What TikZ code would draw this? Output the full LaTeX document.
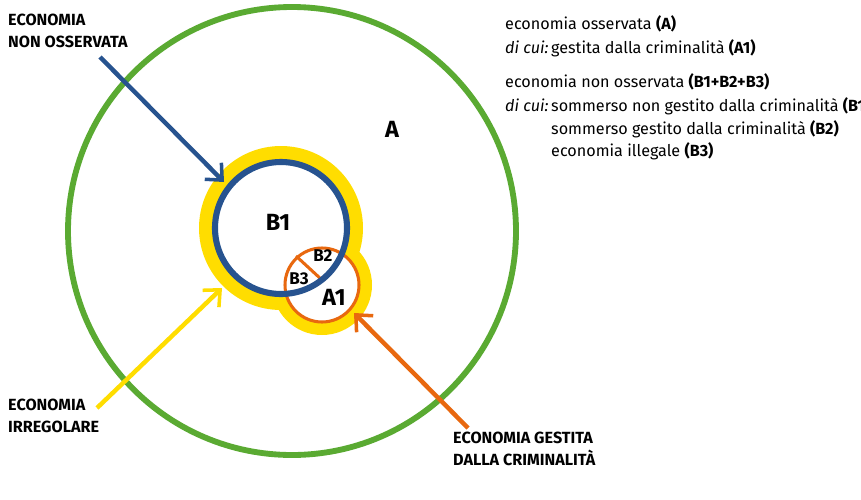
\documentclass[tikz,border=0pt]{standalone}
\usepackage{fontspec}
\setmainfont{Fira Sans}
\usetikzlibrary{arrows.meta}
\definecolor{cg}{HTML}{5AAA32}
\definecolor{cb}{HTML}{27538F}
\definecolor{cy}{HTML}{FFDD00}
\definecolor{co}{HTML}{E8680F}
\begin{document}
\begin{tikzpicture}[x=0.03cm,y=-0.03cm,
  lab/.style={font=\fontsize{13.8}{18.5}\selectfont\bfseries,align=left,anchor=north west,inner sep=0},
  leg/.style={font=\fontsize{13.8}{14}\selectfont,anchor=base west,inner sep=0},
  big/.style={font=\fontsize{20}{20}\selectfont\bfseries,inner sep=0},
  sm/.style={font=\fontsize{14.5}{14}\selectfont\bfseries,inner sep=0},
  arr/.style={line width=3.8pt,-{Straight Barb[length=11pt,width=20pt,line width=3pt]}}]
\useasboundingbox (0,0) rectangle (861,499);
% yellow halo
\fill[cy] (281,228) circle (82);
\fill[cy] (322,285) circle (50);
\fill[white] (281,228) circle (66);
\fill[white] (322,285) circle (37);
\draw[cg,line width=5pt] (292,231) circle (224);
\draw[co,line width=2.6pt] (322,285) circle (37);
\draw[co,line width=2.6pt] (296,256) -- (322,280);
\draw[cb,line width=5.2pt] (281,228) circle (66);
\node[big] (A) at (392,129) {A};
\node[big] (B1) at (278,222) {B1};
\node[big] (A1) at (334,297) {A1};
\node[sm] (B2) at (323,256) {B2};
\node[sm] (B3) at (299,279) {B3};
% labels
\node[lab] (lnos) at (8,14) {ECONOMIA\\NON OSSERVATA};
\node[lab] (lirr) at (8,399) {ECONOMIA\\IRREGOLARE};
\node[lab] (lcri) at (453,432) {ECONOMIA GESTITA\\DALLA CRIMINALITÀ};
\coordinate (pb) at (100,57);
\coordinate (py) at (97,408);
\coordinate (po) at (468,428);
\draw[arr,cb] (pb) -- (224,182);
\draw[arr,cy] (py) -- (222,288);
\draw[arr,co] (po) -- (354,313);
% legend
\node[leg] (l1) at (505,29) {economia osservata \textbf{(A)}};
\node[leg] (l2) at (505,53) {\textit{di cui:}};
\node[leg] (l3) at (551,53) {gestita dalla criminalità \textbf{(A1)}};
\node[leg] (l4) at (505,87) {economia non osservata \textbf{(B1+B2+B3)}};
\node[leg] (l5) at (505,111) {\textit{di cui:}};
\node[leg] (l6) at (551,111) {sommerso non gestito dalla criminalità \textbf{(B1)}};
\node[leg] (l7) at (551,134) {sommerso gestito dalla criminalità \textbf{(B2)}};
\node[leg] (l8) at (551,156) {economia illegale \textbf{(B3)}};
\end{tikzpicture}
\end{document}
